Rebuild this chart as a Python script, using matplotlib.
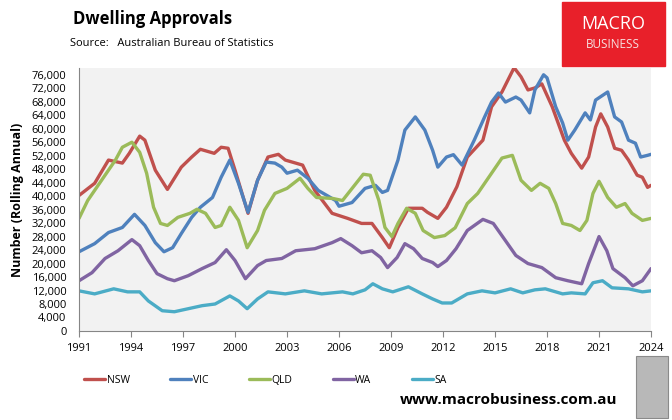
import numpy as np
import matplotlib
matplotlib.use("Agg")
import matplotlib.pyplot as plt
from matplotlib.patches import Rectangle

plt.rcParams['font.family'] = ['Open Sans', 'DejaVu Sans']

# Rolling annual dwelling approvals (decimal years)
nsw_t = [1991.0, 1991.9, 1992.7, 1993.5, 1993.9, 1994.5, 1994.8, 1995.4, 1996.1, 1996.9, 1997.5,
         1998.0, 1998.8, 1999.2, 1999.6, 2000.0, 2000.75, 2001.3, 2001.9, 2002.5, 2002.9, 2003.9,
         2004.6, 2005.6, 2006.5, 2007.3, 2007.9, 2008.5, 2008.9, 2009.4, 2010.0, 2010.8, 2011.1,
         2011.7, 2012.2, 2012.8, 2013.4, 2014.3, 2014.8, 2015.4, 2016.1, 2016.5, 2016.9, 2017.3,
         2017.7, 2018.3, 2019.0, 2019.4, 2020.0, 2020.4, 2020.8, 2021.1, 2021.5, 2021.9, 2022.3,
         2022.7, 2023.2, 2023.5, 2023.8, 2024.0]
nsw_v = [40200, 43800, 50700, 49800, 52700, 57800, 56600, 47700, 42000, 48600, 51600,
         53900, 52700, 54500, 54200, 47700, 34900, 44700, 51600, 52400, 50700, 49200,
         41700, 34900, 33400, 31900, 31900, 27700, 24700, 30700, 36400, 36400, 35200,
         33400, 36700, 42800, 51600, 56600, 66500, 70900, 78100, 75400, 71500, 72100,
         73300, 66500, 56600, 52700, 48300, 51600, 60500, 64400, 60500, 54200, 53600,
         50700, 46200, 45600, 42600, 43200]

vic_t = [1991.0, 1991.9, 1992.7, 1993.5, 1994.2, 1994.8, 1995.4, 1995.9, 1996.4, 1996.9, 1997.5,
         1998.0, 1998.7, 1999.2, 1999.7, 2000.2, 2000.75, 2001.3, 2001.8, 2002.3, 2002.7, 2003.0,
         2003.6, 2004.2, 2004.8, 2005.8, 2006.0, 2006.75, 2007.5, 2008.1, 2008.5, 2008.8, 2009.4,
         2009.8, 2010.4, 2010.95, 2011.4, 2011.7, 2012.2, 2012.6, 2013.1, 2013.8, 2014.4, 2014.8,
         2015.2, 2015.6, 2016.2, 2016.5, 2017.0, 2017.3, 2017.8, 2018.0, 2018.5, 2018.9, 2019.2,
         2019.6, 2020.2, 2020.5, 2020.8, 2021.5, 2021.9, 2022.3, 2022.7, 2023.1, 2023.4, 2023.8,
         2024.0]
vic_v = [23500, 25900, 29200, 30700, 34600, 31300, 26200, 23500, 24700, 28900, 33700,
         36700, 39600, 45600, 50700, 43800, 35200, 44700, 50100, 49800, 48600, 46800,
         47700, 45300, 41700, 38700, 37000, 38100, 42300, 43200, 41100, 41700, 50700,
         59600, 63500, 59600, 53600, 48600, 51600, 52300, 49200, 56600, 63500, 67900,
         70600, 67900, 69400, 68500, 64700, 71500, 76000, 75100, 66500, 61700, 56600,
         59600, 64700, 62600, 68500, 70900, 63500, 62000, 56600, 55700, 51600, 52100,
         52400]

qld_t = [1991.0, 1991.5, 1992.3, 1993.1, 1993.5, 1994.05, 1994.5, 1994.9, 1995.3, 1995.7, 1996.1,
         1996.7, 1997.4, 1997.8, 1998.3, 1998.85, 1999.2, 1999.7, 2000.2, 2000.7, 2001.3, 2001.7,
         2002.3, 2003.0, 2003.75, 2004.2, 2004.7, 2005.65, 2006.2, 2006.8, 2007.4, 2007.8, 2008.3,
         2008.65, 2009.05, 2009.4, 2009.9, 2010.4, 2010.85, 2011.5, 2012.1, 2012.7, 2013.4, 2014.0,
         2014.8, 2015.4, 2016.0, 2016.5, 2017.1, 2017.6, 2018.1, 2018.5, 2018.9, 2019.4, 2019.9,
         2020.3, 2020.65, 2021.0, 2021.5, 2022.0, 2022.5, 2022.9, 2023.5, 2024.0]
qld_v = [33400, 38700, 44700, 50700, 54500, 56000, 53000, 46800, 36700, 31900, 31300,
         33700, 34900, 36100, 34900, 30700, 31300, 36700, 32800, 24700, 29800, 35800,
         40800, 42300, 45300, 42300, 39600, 39300, 38700, 42600, 46500, 46200, 38700,
         30700, 28000, 31900, 36400, 34900, 29800, 27700, 28300, 30600, 37800, 40800,
         46800, 51300, 52100, 44700, 41700, 43800, 42300, 37800, 31900, 31300, 29800,
         32800, 40800, 44400, 39600, 36700, 37800, 34900, 32800, 33400]

wa_t = [1991.0, 1991.75, 1992.5, 1993.25, 1994.05, 1994.5, 1995.0, 1995.5, 1996.1, 1996.5, 1997.3,
        1998.1, 1998.85, 1999.5, 2000.0, 2000.6, 2001.3, 2001.8, 2002.7, 2003.5, 2004.6, 2005.6,
        2006.1, 2006.75, 2007.3, 2007.9, 2008.4, 2008.8, 2009.35, 2009.8, 2010.3, 2010.8, 2011.4,
        2011.7, 2012.2, 2012.75, 2013.4, 2014.3, 2014.9, 2015.6, 2016.2, 2016.9, 2017.7, 2018.5,
        2019.2, 2020.0, 2020.4, 2021.0, 2021.45, 2021.8, 2022.5, 2022.95, 2023.5, 2024.0]
wa_v = [14900, 17300, 21500, 23800, 27100, 25300, 20900, 17000, 15500, 14900, 16400,
        18500, 20300, 24100, 20900, 15500, 19400, 20900, 21500, 23800, 24400, 26200,
        27400, 25300, 23200, 23800, 21800, 18800, 21800, 25900, 24400, 21500, 20300,
        19100, 20900, 24400, 29800, 33100, 31900, 26800, 22400, 20000, 18800, 15800,
        14900, 14000, 20000, 28000, 23800, 18500, 15800, 13400, 14900, 18500]

sa_t = [1991.0, 1991.9, 1993.0, 1993.8, 1994.5, 1995.0, 1995.8, 1996.5, 1997.3, 1998.1, 1998.85,
        1999.7, 2000.2, 2000.7, 2001.3, 2001.9, 2002.9, 2004.0, 2005.0, 2006.2, 2006.8, 2007.5,
        2007.95, 2008.5, 2009.1, 2010.0, 2010.8, 2011.4, 2011.95, 2012.5, 2013.4, 2014.25, 2015.0,
        2015.9, 2016.6, 2017.3, 2017.9, 2018.9, 2019.4, 2020.2, 2020.65, 2021.2, 2021.75, 2022.7,
        2023.5, 2024.0]
sa_v = [11900, 11000, 12500, 11600, 11600, 8900, 6000, 5700, 6600, 7500, 8000,
        10400, 8900, 6600, 9500, 11600, 11000, 11900, 11000, 11600, 11000, 12200,
        14000, 12500, 11600, 13100, 11000, 9500, 8300, 8300, 11000, 11900, 11300,
        12500, 11300, 12200, 12500, 11000, 11300, 11000, 14300, 14900, 12800, 12500,
        11600, 11900]

series = [("NSW", nsw_t, nsw_v, "#C0504D"),
          ("VIC", vic_t, vic_v, "#4F81BD"),
          ("QLD", qld_t, qld_v, "#9BBB59"),
          ("WA", wa_t, wa_v, "#8064A2"),
          ("SA", sa_t, sa_v, "#4BACC6")]

year_ticks = list(range(1991, 2025, 3))
y_ticks = list(range(0, 76001, 4000))

fig = plt.figure(figsize=(6.72, 4.2), dpi=100)
ax = fig.add_axes([0.1176, 0.212, 0.8512, 0.626])
ax.set_facecolor("#F2F2F2")

for name, t, v, col in series:
    ax.plot(t, v, color=col, lw=2.4, label=name, solid_capstyle="round")

ax.set_xlim(1991, 2024)
ax.set_ylim(0, 78000)
ax.set_xticks(year_ticks)
ax.set_yticks(y_ticks)
ax.set_yticklabels([f"{y:,}" for y in y_ticks], fontsize=8)
ax.set_xticklabels([str(y) for y in year_ticks], fontsize=8)
ax.tick_params(axis="y", length=0, pad=9)
ax.tick_params(axis="x", length=4, color="#868686", pad=5)
for s in ["top", "right"]:
    ax.spines[s].set_visible(False)
for s in ["left", "bottom"]:
    ax.spines[s].set_color("#868686")
ax.set_ylabel("Number (Rolling Annual)", fontsize=9, fontweight="bold")
ax.yaxis.set_label_coords(-0.096, 0.5)

# titles
fig.text(0.108, 0.955, "Dwelling Approvals", fontsize=12, fontweight="bold", va="center")
fig.text(0.104, 0.897, "Source:   Australian Bureau of Statistics", fontsize=8, va="center")

# logo box
fig.patches.append(Rectangle((562 / 672, 1 - 66 / 420), 103 / 672, 64 / 420,
                             transform=fig.transFigure, color="#E8202A", zorder=5))
fig.text(613 / 672, 1 - 24 / 420, "MACRO", color="white", fontsize=13, ha="center",
         va="center", zorder=6)
fig.text(613 / 672, 1 - 45 / 420, "BUSINESS", color="#F6E0E0", fontsize=8.5, ha="center",
         va="center", zorder=6)

# legend
leg = fig.legend(loc="center", bbox_to_anchor=(0.395, 0.095), ncol=5, frameon=False,
                 fontsize=7.5, handlelength=2.0, handletextpad=0.15, columnspacing=3.9)

fig.text(0.919, 0.047, "www.macrobusiness.com.au", fontsize=11, fontweight="bold",
         ha="right", va="center")

# wolf badge placeholder
fig.patches.append(Rectangle((636 / 672, 2 / 420), 32 / 672, 62 / 420,
                             transform=fig.transFigure, facecolor="#B8B8B8",
                             edgecolor="#8A8A8A", lw=0.8))

fig.savefig("out.png", dpi=100)
